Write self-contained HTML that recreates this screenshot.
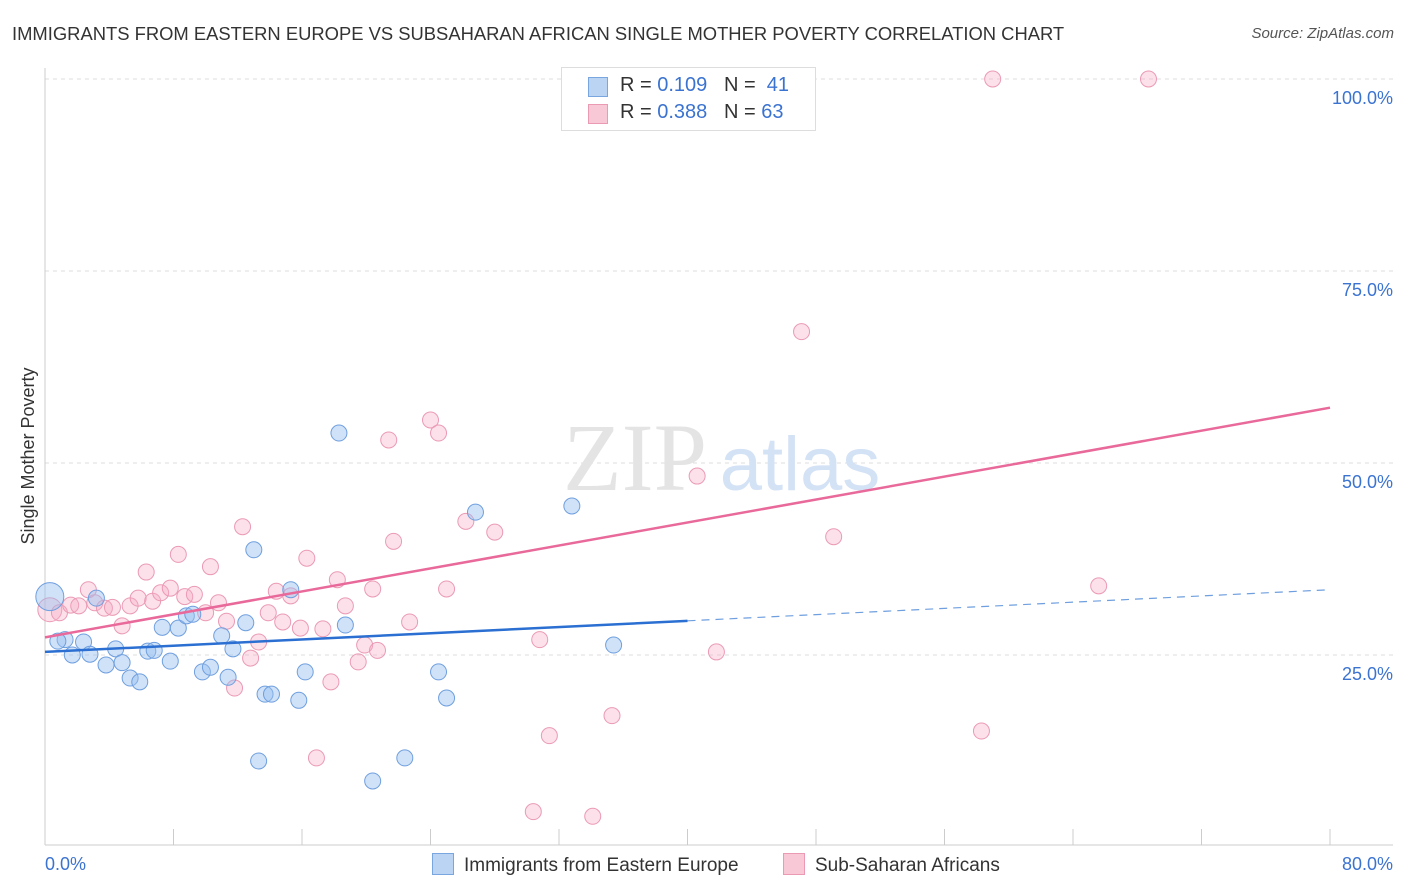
<!DOCTYPE html>
<html><head><meta charset="utf-8"><style>
body{margin:0;background:#fff;font-family:"Liberation Sans",sans-serif;}
#wrap{position:relative;width:1406px;height:892px;overflow:hidden;}
.t{position:absolute;white-space:nowrap;}
</style></head><body>
<div id="wrap">
<div class="t" style="left:12px;top:23px;font-size:18.4px;color:#333;">IMMIGRANTS FROM EASTERN EUROPE VS SUBSAHARAN AFRICAN SINGLE MOTHER POVERTY CORRELATION CHART</div>
<div class="t" style="right:12px;top:25px;font-size:15px;color:#555;font-style:italic;">Source: ZipAtlas.com</div>
<svg id="plot" width="1406" height="892" style="position:absolute;left:0;top:0"></svg>
</div>
<script>
const xTicks=[0,10,20,30,40,50,60,70,80];
const yTicks=[25,50,75,100];
const blueX=[0.3,1.25,0.8,1.7,2.4,2.8,3.2,3.8,4.4,4.8,5.3,5.9,6.4,6.8,7.3,7.8,8.3,8.8,9.2,9.8,10.3,11.0,11.4,11.7,12.5,13.0,13.3,13.7,14.1,15.3,15.8,16.2,18.3,18.7,20.4,22.4,24.5,25.0,26.8,32.8,35.4];
const blueY=[32.6,27.0,26.8,25.0,26.7,25.1,32.4,23.7,25.8,24.0,22.0,21.5,25.5,25.6,28.6,24.2,28.5,30.1,30.3,22.8,23.4,27.5,22.1,25.8,29.2,38.7,11.2,19.9,19.9,33.5,19.1,22.8,53.9,28.9,8.6,11.6,22.8,19.4,43.6,44.4,26.3];
const pinkX=[0.3,0.9,1.6,2.1,2.7,3.1,3.7,4.2,4.8,5.3,5.8,6.3,6.7,7.2,7.8,8.3,8.7,9.3,10.0,10.3,10.8,11.3,11.8,12.3,12.8,13.3,13.9,14.4,14.8,15.3,15.9,16.3,16.9,17.3,17.8,18.2,18.7,19.5,19.9,20.4,20.7,21.4,21.7,22.7,24.0,24.5,25.0,26.2,28.0,30.4,30.8,31.4,34.1,35.3,40.6,41.8,47.1,49.1,58.3,59.0,65.6,68.7];
const pinkY=[30.9,30.5,31.5,31.4,33.5,31.8,31.1,31.2,28.8,31.4,32.4,35.8,32.0,33.1,33.7,38.1,32.6,32.9,30.5,36.5,31.8,29.4,20.7,41.7,24.6,26.7,30.5,33.3,29.3,32.7,28.5,37.6,11.6,28.4,21.5,34.8,31.4,24.1,26.3,33.6,25.6,53.0,39.8,29.3,55.6,53.9,33.6,42.4,41.0,4.6,27.0,14.5,4.0,17.1,48.3,25.4,67.1,40.4,15.1,100,34.0,100];
const blueTrend=[25.4,33.5];
const pinkTrend=[27.3,57.2];
const X=v=>45+v/80*1285, Y=v=>847-v/100*768;
const svg=document.getElementById('plot');const NS='http://www.w3.org/2000/svg';
function mk(tag,attrs,name){const e=document.createElementNS(NS,tag);for(const k in attrs)e.setAttribute(k,attrs[k]);


svg.appendChild(e);return e;}
yTicks.forEach(v=>{mk('line',{x1:45,x2:1393,y1:Y(v),y2:Y(v),stroke:'#ddd','stroke-dasharray':'4,4'},'gridline');
const t=mk('text',{x:1393,y:Y(v)+25,'text-anchor':'end','font-size':18,fill:'#3b73d1'},'y-tick-label');t.textContent=v.toFixed(1)+'%';});
mk('line',{x1:45,x2:45,y1:68,y2:845,stroke:'#ccc'},'y-axis-line');
mk('line',{x1:45,x2:1393,y1:845,y2:845,stroke:'#ccc'},'x-axis-line');
for(let i=0;i<=10;i++){const v=i*8;mk('line',{x1:X(v),x2:X(v),y1:829,y2:845,stroke:'#ccc'},'x-tick');}
const w1=mk('text',{x:635,y:490,'text-anchor':'middle','font-size':96,fill:'#e4e4e4','font-family':'Liberation Serif'},'watermark-zip');w1.textContent='ZIP';
const w2=mk('text',{x:800,y:490,'text-anchor':'middle','font-size':76,fill:'#d4e2f5'},'watermark-atlas');w2.textContent='atlas';
pinkX.forEach((x,i)=>{mk('circle',{cx:X(x),cy:Y(pinkY[i]),r:i==0?12:8,fill:'rgba(245,170,195,0.35)',stroke:'#eb9ab4','stroke-width':1},'pink-point');});
blueX.forEach((x,i)=>{mk('circle',{cx:X(x),cy:Y(blueY[i]),r:i==0?14:8,fill:'rgba(150,190,240,0.45)',stroke:'#6f9fdf','stroke-width':1},'blue-point');});
const by=x=>blueTrend[0]+(blueTrend[1]-blueTrend[0])*x/80;
mk('line',{x1:X(0),y1:Y(by(0)),x2:X(40),y2:Y(by(40)),stroke:'#2a6fd1','stroke-width':2.5},'blue-trend-line');
mk('line',{x1:X(40),y1:Y(by(40)),x2:X(80),y2:Y(by(80)),stroke:'#6f9fdf','stroke-width':1.2,'stroke-dasharray':'8,6'},'blue-trend-extension');
mk('line',{x1:X(0),y1:Y(pinkTrend[0]),x2:X(80),y2:Y(pinkTrend[1]),stroke:'#e8699a','stroke-width':2.5},'pink-trend-line');
const xl=mk('text',{x:45,y:870,'font-size':18,fill:'#3b73d1'},'x-min-label');xl.textContent='0.0%';
const xr=mk('text',{x:1393,y:870,'text-anchor':'end','font-size':18,fill:'#3b73d1'},'x-max-label');xr.textContent='80.0%';
const yt=mk('text',{x:34,y:456,'text-anchor':'middle','font-size':18,fill:'#333',transform:'rotate(-90 34 456)'},'y-axis-title');yt.textContent='Single Mother Poverty';
</script>
<div class="t" style="left:561px;top:67px;width:253px;height:62px;border:1px solid #ddd;background:#fff;font-size:20px;color:#333;">
<div style="position:absolute;left:26px;top:9px;width:18px;height:18px;background:#bcd4f4;border:1px solid #7aa6e0"></div>
<div style="position:absolute;left:58px;top:6px">R = <span style="color:#3b73d1">0.109</span>&nbsp;&nbsp;&nbsp;N = <span style="color:#3b73d1">&nbsp;41</span></div>
<div style="position:absolute;left:26px;top:36px;width:18px;height:18px;background:#f8c8d7;border:1px solid #eb9ab4"></div>
<div style="position:absolute;left:58px;top:33px">R = <span style="color:#3b73d1">0.388</span>&nbsp;&nbsp;&nbsp;N = <span style="color:#3b73d1">63</span></div>
</div>
<div class="t" style="left:432px;top:853px;font-size:19px;color:#333;"><span style="display:inline-block;width:20px;height:20px;background:#bcd4f4;border:1px solid #7aa6e0;vertical-align:-4px;margin-right:10px"></span>Immigrants from Eastern Europe</div>
<div class="t" style="left:783px;top:853px;font-size:19px;color:#333;"><span style="display:inline-block;width:20px;height:20px;background:#f8c8d7;border:1px solid #eb9ab4;vertical-align:-4px;margin-right:10px"></span>Sub-Saharan Africans</div>
</body></html>
